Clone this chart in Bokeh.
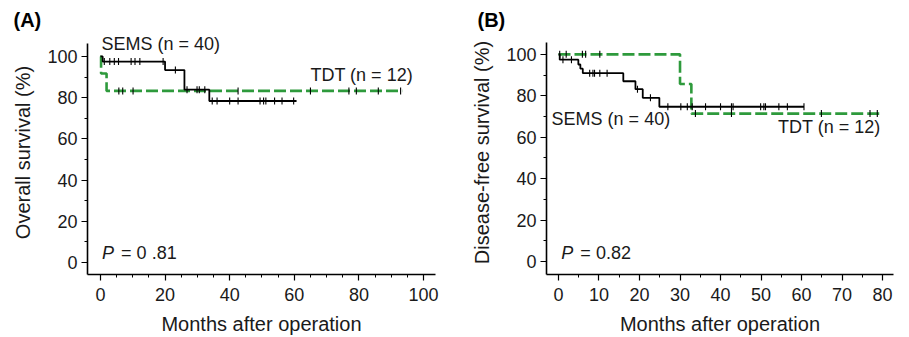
import numpy as np
from bokeh.plotting import figure
from bokeh.layouts import row
from bokeh.models import Range1d, Label, FixedTicker
from bokeh.embed import file_html
from bokeh.resources import INLINE

# ---------------- data ----------------
# Panel A: overall survival
a_sems_t = [0, 0.7, 20, 26, 33.7, 60.7]
a_sems_s = [100, 97.5, 93.4, 83.9, 78.4, 78.4]
a_sems_cens_t = [1.2, 2.9, 4.3, 5.6, 9.5, 10.7, 12.2, 19.4, 23.2, 26.8, 29.9, 30.6, 32.3,
                 34.6, 36.1, 40, 42.6, 49.4, 50.5, 51.2, 53.9, 56.2, 59.8]
a_sems_cens_s = [97.5] * 8 + [93.4] + [83.9] * 4 + [78.4] * 10

a_tdt_t = [0, 0.2, 1.9, 93.4]
a_tdt_s = [100, 91.7, 83.3, 83.3]
a_tdt_cens_t = [5.7, 6.9, 10.1, 42.6, 65, 76.9, 79.2, 86, 92.9]
a_tdt_cens_s = [83.3] * 9

# Panel B: disease-free survival
b_sems_t = [0, 0.3, 4.9, 5.4, 6.0, 16, 19, 20.8, 24.9, 60.6]
b_sems_s = [100, 97.4, 95.1, 93.1, 90.9, 87.0, 83.2, 79.0, 74.7, 74.7]
b_sems_cens_t = [1.1, 3.2, 7.7, 8.5, 8.9, 10.2, 12.0, 19.5, 22.7,
                 27, 30.2, 31.8, 33, 36.3, 40, 42.7, 43.1, 49.9, 50.7, 51.1, 54.4, 56.5, 60.6]
b_sems_cens_s = [97.4] * 2 + [90.9] * 5 + [83.2] + [79.0] + [74.7] * 14

b_tdt_t = [0, 30, 32.8, 79.5]
b_tdt_s = [100, 85.7, 71.4, 71.4]
b_tdt_cens_t = [0.3, 1.9, 5.9, 6.7, 10.2, 33.8, 42.7, 64.9, 76.9, 78.7]
b_tdt_cens_s = [100] * 5 + [71.4] * 5

a_xticks = [0, 20, 40, 60, 80, 100]
b_xticks = [0, 10, 20, 30, 40, 50, 60, 70, 80]
yticks = [0, 20, 40, 60, 80, 100]

FONT = "Liberation Sans"
GREEN = "#2e9a3c"
TXT = "#1a1a1a"


def make_fig(width, border_left, border_right, xr, yr, ybounds, xticks, x_minor,
             ylabel, title, title_offset):
    p = figure(width=width, height=337, output_backend="svg", toolbar_location=None,
               x_range=Range1d(*xr), y_range=Range1d(*yr),
               min_border_left=border_left, min_border_right=border_right,
               min_border_top=30, min_border_bottom=62)
    p.outline_line_color = None
    p.grid.grid_line_color = None
    p.background_fill_color = "white"
    p.border_fill_color = "white"
    p.title.text = title
    p.title.align = "left"
    p.title.offset = title_offset
    p.title.text_font = FONT
    p.title.text_font_size = "20px"
    p.title.text_font_style = "bold"
    p.title.text_color = "black"
    p.title.standoff = 0
    p.xaxis.ticker = FixedTicker(ticks=xticks, minor_ticks=x_minor)
    p.yaxis.ticker = FixedTicker(ticks=yticks, minor_ticks=list(range(0, 101, 10)))
    p.yaxis.bounds = ybounds
    p.xaxis.bounds = (xr[0], xr[1])
    for ax in (p.xaxis[0], p.yaxis[0]):
        ax.axis_line_width = 1.6
        ax.axis_line_color = "black"
        ax.major_tick_line_color = "black"
        ax.minor_tick_line_color = "black"
        ax.major_tick_line_width = 1.2
        ax.minor_tick_line_width = 1
        ax.major_tick_in = 0
        ax.major_tick_out = 6
        ax.minor_tick_in = 0
        ax.minor_tick_out = 3
        ax.major_label_text_font = FONT
        ax.major_label_text_font_size = "18px"
        ax.major_label_text_color = TXT
        ax.axis_label_text_font = FONT
        ax.axis_label_text_font_size = "20px"
        ax.axis_label_text_font_style = "normal"
        ax.axis_label_text_color = TXT
    p.xaxis.major_label_standoff = 7
    p.yaxis.major_label_standoff = 4
    p.xaxis.axis_label = "Months after operation"
    p.xaxis.axis_label_standoff = 9
    p.yaxis.axis_label = ylabel
    p.yaxis.axis_label_standoff = 10
    return p


def add_curves(p, st, ss, sct, scs, tt, ts, tct, tcs):
    p.step(tt, ts, mode="after", line_color=GREEN, line_width=2.6, line_dash="12 4")
    p.step(st, ss, mode="after", line_color="black", line_width=1.8)
    p.scatter(sct + tct, scs + tcs, marker="dash", angle=np.pi / 2, size=7,
              line_color="black", line_width=1.1)


def text(p, x, y, s, size="18px", style="normal", align="left"):
    p.add_layout(Label(x=x, y=y, text=s, text_font=FONT, text_font_size=size,
                       text_font_style=style, text_color=TXT,
                       text_baseline="middle", text_align=align))


# Panel A
pa = make_fig(458, 87, 23, (-4.0, 103.7), (-5.8, 112.6), (-5.8, 106.3), a_xticks,
              list(range(0, 101, 5)), "Overall survival (%)", "(A)", -74)
add_curves(pa, a_sems_t, a_sems_s, a_sems_cens_t, a_sems_cens_s,
           a_tdt_t, a_tdt_s, a_tdt_cens_t, a_tdt_cens_s)
text(pa, 0.3, 106, "SEMS (n = 40)")
text(pa, 65, 90.8, "TDT (n = 12)")
text(pa, 0.5, 4.8, "P", style="italic")
text(pa, 6.4, 4.8, "= 0 .81")

# Panel B
pb = make_fig(451, 88, 16, (-2.96, 82.7), (-6.25, 111.5), (-6.25, 105.8), b_xticks,
              list(range(0, 81, 5)), "Disease-free survival (%)", "(B)", -69)
add_curves(pb, b_sems_t, b_sems_s, b_sems_cens_t, b_sems_cens_s,
           b_tdt_t, b_tdt_s, b_tdt_cens_t, b_tdt_cens_s)
text(pb, -1.7, 69, "SEMS (n = 40)")
text(pb, 79.5, 65, "TDT (n = 12)", align="right")
text(pb, 0.7, 4.3, "P", style="italic")
text(pb, 5.4, 4.3, "= 0.82")

layout = row(pa, pb)
open("out.html", "w").write(file_html(layout, INLINE))
